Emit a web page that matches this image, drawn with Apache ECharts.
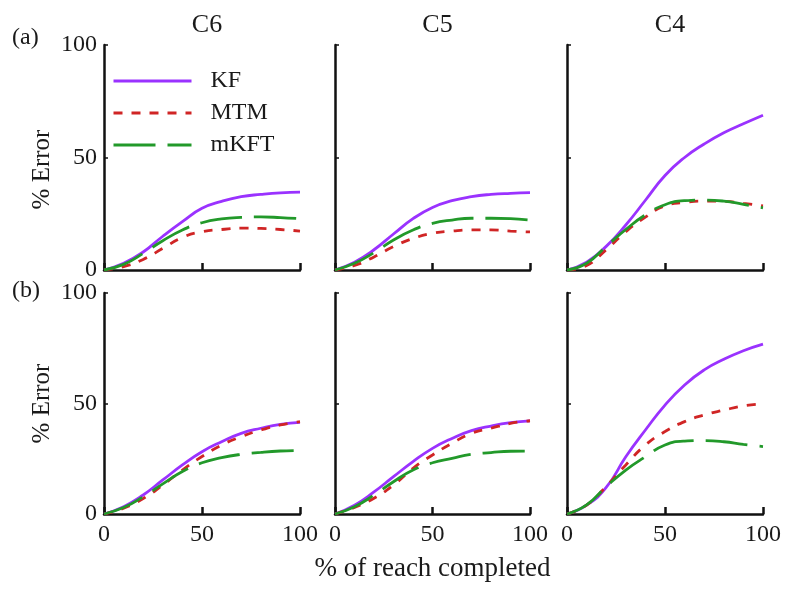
<!DOCTYPE html>
<html>
<head>
<meta charset="utf-8">
<script src="https://cdn.jsdelivr.net/npm/echarts@6/dist/echarts.min.js"></script>
<style>html,body{margin:0;padding:0;background:#fff;}#c{width:788px;height:589px;}</style>
</head>
<body>
<div id="c"></div>
<script>
const xValues = [0, 10, 20, 30, 40, 50, 60, 70, 80, 90, 100];
const panelTitles = ['C6', 'C5', 'C4'];
const seriesNames = ['KF', 'MTM', 'mKFT'];
const yTicks = [0, 50, 100];

// Row (a)
const a_C6_KF   = [0, 3, 8, 15, 21.5, 27.4, 30.5, 32.6, 33.6, 34.3, 34.6];
const a_C6_MTM  = [0, 1.5, 4.7, 9.6, 14.5, 17, 18, 18.6, 18.5, 18, 17.3];
const a_C6_mKFT = [0, 2.5, 7.4, 13, 17.8, 21, 22.7, 23.4, 23.6, 23.3, 22.8];

const a_C5_KF   = [0, 3.5, 9, 16, 22.8, 27.8, 30.8, 32.6, 33.6, 34.1, 34.4];
const a_C5_MTM  = [0, 2, 5.8, 10.4, 14, 16.3, 17.3, 17.8, 17.8, 17.3, 16.9];
const a_C5_mKFT = [0, 3, 7.7, 13.3, 17.8, 20.7, 22.2, 23, 23, 22.8, 22.2];

const a_C4_KF   = [0, 3.5, 10.5, 20, 31, 42, 50, 56, 61, 65, 68.8];
const a_C4_MTM  = [0, 2, 9, 17, 23.5, 28.5, 30, 30.6, 30.5, 29.6, 28.5];
const a_C4_mKFT = [0, 3, 10.5, 18, 24.5, 29, 30.8, 31.1, 30.6, 29.2, 27.6];

// Row (b)
const b_C6_KF   = [0, 3.3, 8.6, 15.4, 22.2, 28.2, 32.7, 36.5, 38.8, 40.6, 41.5];
const b_C6_MTM  = [0, 2.6, 7, 13.1, 19.9, 26, 31.2, 35, 38, 40.3, 41.8];
const b_C6_mKFT = [0, 2.9, 7.8, 13.6, 19.2, 23.2, 25.5, 27, 27.9, 28.5, 28.7];

const b_C5_KF   = [0, 4, 10, 16.9, 23.7, 29.7, 34.2, 37.7, 39.8, 41.3, 42.1];
const b_C5_MTM  = [0, 3, 7.1, 13.1, 20.7, 26.7, 32, 36.5, 38.8, 41, 42.2];
const b_C5_mKFT = [0, 3.3, 8.6, 14.6, 19.9, 23.2, 25.2, 27, 27.8, 28.4, 28.5];

const b_C4_KF   = [0, 4, 12, 25.9, 38, 49.3, 58.4, 65.2, 70, 73.9, 76.9];
const b_C4_MTM  = [0, 4, 12.5, 22.2, 31.2, 37.3, 41.8, 44.8, 47, 48.9, 49.8];
const b_C4_mKFT = [0, 4.1, 12.4, 19.9, 25.9, 31.2, 33, 33.2, 32.7, 31.5, 30.5];

const panels = [
  [a_C6_KF, a_C6_MTM, a_C6_mKFT],
  [a_C5_KF, a_C5_MTM, a_C5_mKFT],
  [a_C4_KF, a_C4_MTM, a_C4_mKFT],
  [b_C6_KF, b_C6_MTM, b_C6_mKFT],
  [b_C5_KF, b_C5_MTM, b_C5_mKFT],
  [b_C4_KF, b_C4_MTM, b_C4_mKFT]
];

const FONT = '"Liberation Serif", "DejaVu Serif", serif';
const TXT = '#1a1a1a';
const colors = ['#9a32ff', '#d02525', '#22992a'];
const dashes = ['solid', [9, 9], [42, 12]];

const colLeft = [104, 335, 567];
const colWidth = [196, 195, 196];
const rowTop = [45, 293];
const rowHeight = [225, 221];

const grids = [], xAxes = [], yAxes = [], series = [];
for (let i = 0; i < 6; i++) {
  const r = Math.floor(i / 3), c = i % 3;
  grids.push({ left: colLeft[c], top: rowTop[r], width: colWidth[c], height: rowHeight[r], containLabel: false });
  xAxes.push({
    type: 'value', gridIndex: i, min: 0, max: 100, interval: 50,
    axisLine: { show: true, lineStyle: { color: '#111', width: 2.5 } },
    axisTick: { show: true, inside: true, length: 7, lineStyle: { color: '#111', width: 2.5 } },
    axisLabel: { show: r === 1, fontFamily: FONT, fontSize: 24, color: TXT, margin: 9 },
    splitLine: { show: false },
    name: (i === 4) ? '% of reach completed' : '',
    nameLocation: 'middle', nameGap: 41,
    nameTextStyle: { fontFamily: FONT, fontSize: 27, color: TXT }
  });
  yAxes.push({
    type: 'value', gridIndex: i, min: 0, max: 100, interval: 50,
    axisLine: { show: true, lineStyle: { color: '#111', width: 2.5 } },
    axisTick: { show: true, inside: true, length: 4, lineStyle: { color: '#111', width: 1.5 } },
    axisLabel: { show: c === 0, fontFamily: FONT, fontSize: 24, color: TXT, margin: 7 },
    splitLine: { show: false },
    name: c === 0 ? '% Error' : '',
    nameLocation: 'middle', nameGap: 49, nameRotate: 90,
    nameTextStyle: { fontFamily: FONT, fontSize: 25, color: TXT, padding: r === 0 ? [0, 0, 0, -24] : 0 }
  });
  for (let s = 0; s < 3; s++) {
    series.push({
      type: 'line', name: seriesNames[s], xAxisIndex: i, yAxisIndex: i,
      data: xValues.map((x, k) => [x, panels[i][s][k]]),
      smooth: true, symbol: 'none', showSymbol: false,
      lineStyle: { color: colors[s], width: 2.8, type: dashes[s] },
      itemStyle: { color: colors[s] },
      z: 2 + s, animation: false
    });
  }
}

const titles = panelTitles.map((t, c) => ({
  text: t, left: colLeft[c] + colWidth[c] / 2, top: 7, textAlign: 'center',
  textStyle: { fontFamily: FONT, fontSize: 26, fontWeight: 'normal', color: TXT }
}));
titles.push({ text: '(a)', left: 12, top: 26, padding: 0, textStyle: { fontFamily: FONT, fontSize: 24, fontWeight: 'normal', color: TXT } });
titles.push({ text: '(b)', left: 12, top: 279, padding: 0, textStyle: { fontFamily: FONT, fontSize: 24, fontWeight: 'normal', color: TXT } });

const chart = echarts.init(document.getElementById('c'), null, { renderer: 'canvas' });
chart.setOption({
  animation: false,
  backgroundColor: '#fff',
  title: titles,
  legend: {
    data: seriesNames, orient: 'vertical', left: 112, top: 69, padding: 0,
    itemWidth: 78, itemHeight: 14, itemGap: 8,
    itemStyle: { opacity: 0, borderWidth: 0 },
    lineStyle: { width: 3 },
    textStyle: { fontFamily: FONT, fontSize: 24, color: TXT, padding: [0, 0, 0, 14] }
  },
  grid: grids, xAxis: xAxes, yAxis: yAxes, series: series
});
</script>
</body>
</html>
